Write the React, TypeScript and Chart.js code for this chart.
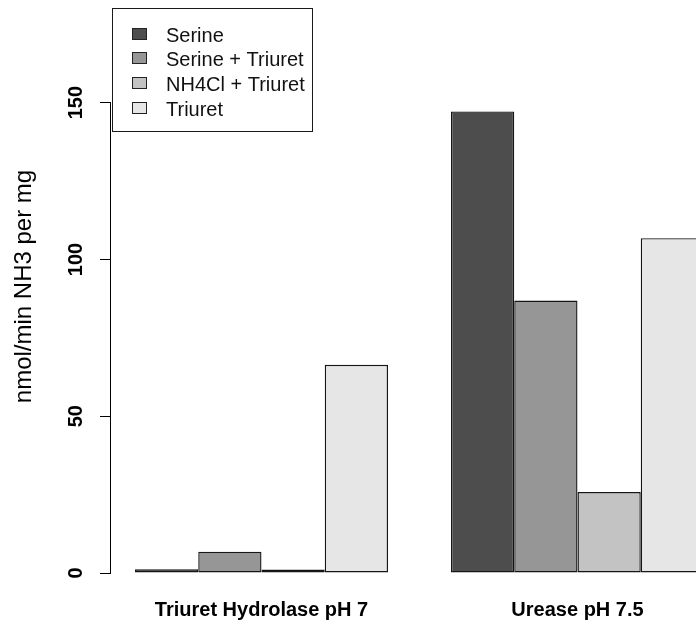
import React, { useEffect, useRef } from "react";
import { Chart, registerables } from "chart.js";

Chart.register(...registerables);

// Group labels along the x axis
const categories = ["Triuret Hydrolase pH 7", "Urease pH 7.5"];

// Treatment series (nmol/min NH3 per mg), one value per group
const seriesNames = ["Serine", "Serine + Triuret", "NH4Cl + Triuret", "Triuret"];
const serine = [1.2, 147.2];
const serineTriuret = [6.8, 86.9];
const nh4clTriuret = [1.1, 25.8];
const triuret = [66.4, 106.8];

// Grey fills for the four treatments
const fills = ["#4D4D4D", "#969696", "#C3C3C3", "#E6E6E6"];

// Y axis tick values
const yTicks = [0, 50, 100, 150];

const FONT = "'Liberation Sans', Arial, Helvetica, sans-serif";

const toPoints = (vals: number[]) => vals.map((v, i) => ({ x: i + 1, y: v }));

// Draws the base-graphics style y axis line (0..150 only) and the boxed legend
const decorPlugin = {
  id: "decor",
  afterDraw(chart: any) {
    const { ctx, chartArea, scales } = chart;
    const y = scales.y;
    ctx.save();
    ctx.strokeStyle = "#000";
    ctx.lineWidth = 1;
    ctx.beginPath();
    const ax = Math.round(chartArea.left) - 0.5;
    ctx.moveTo(ax, y.getPixelForValue(yTicks[0]));
    ctx.lineTo(ax, y.getPixelForValue(yTicks[yTicks.length - 1]));
    ctx.stroke();

    // legend box
    ctx.fillStyle = "#fff";
    ctx.fillRect(112.5, 8.5, 200, 123);
    ctx.strokeStyle = "#1a1a1a";
    ctx.strokeRect(112.5, 8.5, 200, 123);

    ctx.font = `20px ${FONT}`;
    ctx.textAlign = "left";
    ctx.textBaseline = "alphabetic";
    chart.data.datasets.forEach((ds: any, i: number) => {
      const cy = 33.5 + i * 24.9;
      ctx.fillStyle = ds.backgroundColor;
      ctx.fillRect(132, Math.round(cy - 6), 15, 12);
      ctx.strokeStyle = "#222";
      ctx.strokeRect(132.5, Math.round(cy - 6) + 0.5, 14, 11);
      ctx.fillStyle = "#111";
      ctx.fillText(ds.label, 166, cy + 8);
    });
    ctx.restore();
  },
};

export default function App() {
  const canvasRef = useRef<HTMLCanvasElement | null>(null);

  useEffect(() => {
    if (!canvasRef.current) return;
    const seriesValues = [serine, serineTriuret, nh4clTriuret, triuret];
    const chart = new Chart(canvasRef.current, {
      type: "bar",
      data: {
        datasets: seriesValues.map((vals, i) => ({
          label: seriesNames[i],
          data: toPoints(vals),
          backgroundColor: fills[i],
          borderColor: "#151515",
          borderWidth: 1.4,
          borderSkipped: false,
          categoryPercentage: 0.8006,
          barPercentage: 1,
        })),
      },
      options: {
        animation: false,
        responsive: false,
        layout: { padding: { left: 0, right: 0, top: 0, bottom: 0 } },
        plugins: {
          legend: { display: false },
          tooltip: { enabled: false },
        },
        scales: {
          x: {
            type: "linear",
            offset: false,
            min: 0.52373,
            max: 2.375,
            grid: { display: false, offset: false },
            border: { display: false },
            afterBuildTicks: (scale: any) => {
              scale.ticks = categories.map((_, i) => ({ value: i + 1 }));
            },
            afterFit: (scale: any) => {
              scale.height = 53;
              scale.paddingLeft = 0;
              scale.paddingRight = 0;
            },
            ticks: {
              autoSkip: false,
              maxRotation: 0,
              minRotation: 0,
              padding: 17,
              color: "#000",
              font: { family: FONT, size: 20, weight: "bold" },
              callback: (v: any) => categories[Math.round(Number(v)) - 1] ?? "",
            },
          },
          y: {
            min: 0,
            max: 182.75,
            border: { display: false },
            grid: {
              drawOnChartArea: false,
              drawTicks: true,
              tickLength: 11,
              color: "#000",
              lineWidth: 1,
            },
            afterBuildTicks: (scale: any) => {
              scale.ticks = yTicks.map((v) => ({ value: v }));
            },
            afterFit: (scale: any) => {
              scale.width = 111;
              scale.paddingTop = 0;
              scale.paddingBottom = 0;
            },
            ticks: {
              minRotation: 90,
              maxRotation: 90,
              crossAlign: "center",
              padding: 7,
              color: "#000",
              font: { family: FONT, size: 20, weight: "bold" },
              callback: (v: any) => String(v),
            },
            title: {
              display: true,
              text: "nmol/min NH3 per mg",
              color: "#000",
              padding: { top: 10, bottom: 0 },
              font: { family: FONT, size: 24 },
            },
          },
        },
      },
      plugins: [decorPlugin],
    } as any);
    return () => chart.destroy();
  }, []);

  return (
    <div
      style={{
        position: "fixed",
        left: 0,
        top: 0,
        width: 696,
        height: 626,
        overflow: "hidden",
        background: "#fff",
      }}
    >
      <canvas ref={canvasRef} width={696} height={626} style={{ width: 696, height: 626, display: "block" }} />
    </div>
  );
}
